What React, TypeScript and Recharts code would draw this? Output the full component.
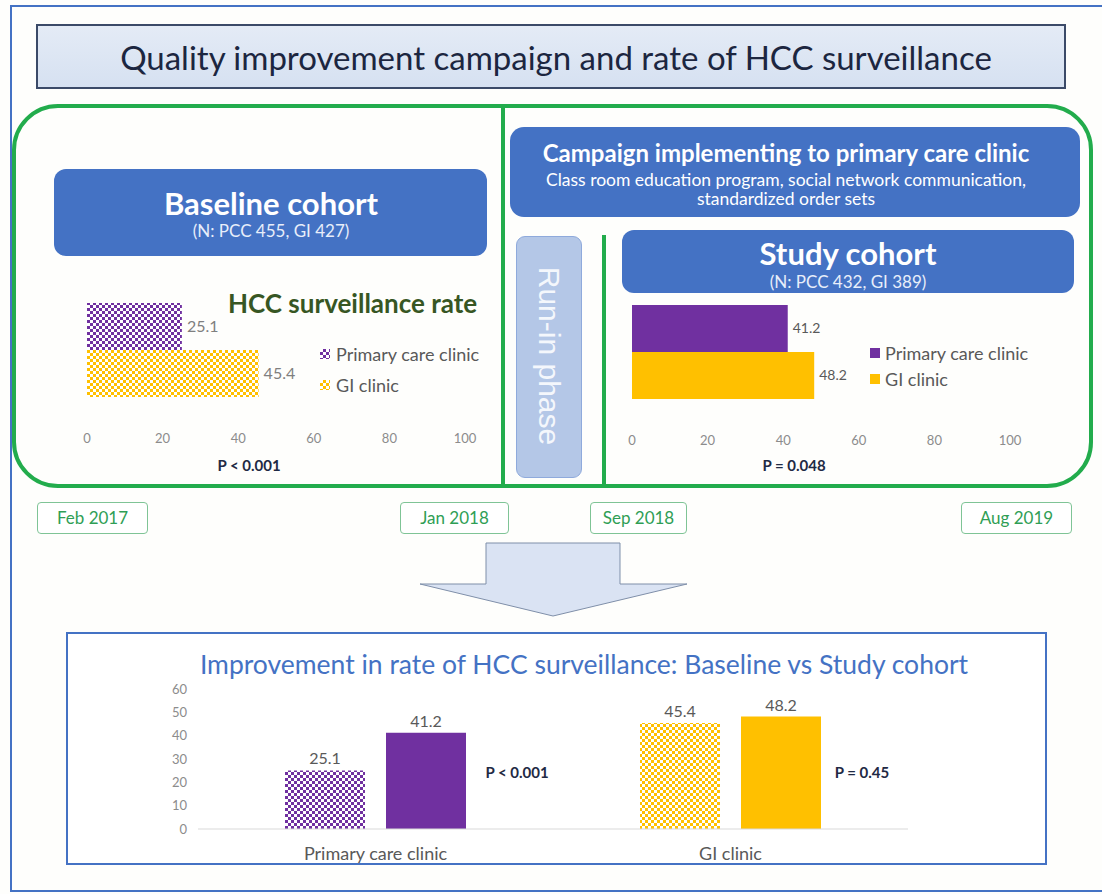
import React from "react";
import { BarChart, Bar, XAxis, YAxis, LabelList, Cell } from "recharts";

// ==================== data ====================
const clinics = ["Primary care clinic", "GI clinic"];
const baselineRates = [25.1, 45.4];
const studyRates = [41.2, 48.2];
const rateTicks = [0, 20, 40, 60, 80, 100];
const compareTicks = [0, 10, 20, 30, 40, 50, 60];
const dateLabels = ["Feb 2017", "Jan 2018", "Sep 2018", "Aug 2019"];
const cohortPValue = ["P < 0.001", "P = 0.048"];
const clinicPValue = ["P < 0.001", "P = 0.45"];

const baselineData = [{ cohort: "Baseline", pcc: baselineRates[0], gi: baselineRates[1] }];
const studyData = [{ cohort: "Study", pcc: studyRates[0], gi: studyRates[1] }];
const compareData = clinics.map((clinic, i) => ({
  clinic,
  baseline: baselineRates[i],
  study: studyRates[i],
}));

const PURPLE = "#7030a0";
const YELLOW = "#ffc000";
const BLUE = "#4472c4";
const GREEN = "#22ac4c";
const FONT = "Lato, 'Open Sans', sans-serif";

// text helper, centred on (cx, cy)
function T({ cx, cy, w = 600, size, color, bold, children, align = "center" }: any) {
  const left = align === "center" ? cx - w / 2 : cx;
  return (
    <div
      style={{
        position: "absolute",
        left,
        top: cy - size * 0.5,
        width: w,
        height: size,
        lineHeight: `${size}px`,
        fontSize: size,
        color,
        fontWeight: bold ? 700 : 400,
        textAlign: align === "center" ? "center" : "left",
        whiteSpace: "nowrap",
      }}
    >
      {children}
    </div>
  );
}

function Rect({ x, y, w, h, style }: any) {
  return <div style={{ position: "absolute", left: x, top: y, width: w, height: h, boxSizing: "border-box", ...style }} />;
}

function Marker({ x, cy, fill }: { x: number; cy: number; fill: string }) {
  return (
    <svg style={{ position: "absolute", left: x, top: cy - 5 }} width={10} height={10}>
      <rect width={10} height={10} fill={fill} />
    </svg>
  );
}

// horizontal bar chart for one cohort
function CohortChart({ data, labelSize, labelColor }: any) {
  const patterned = data === baselineData;
  return (
    <BarChart
      width={440}
      height={170}
      data={data}
      layout="vertical"
      barCategoryGap={3}
      barGap={0}
      margin={{ top: 10, right: 35, left: 27, bottom: 30 }}
      style={{ fontFamily: FONT }}
    >
      <XAxis
        type="number"
        domain={[0, 100]}
        ticks={rateTicks}
        axisLine={false}
        tickLine={false}
        tickMargin={28}
        height={30}
        tick={{ fontSize: 13, fill: "#8c8c8c" }}
      />
      <YAxis type="category" dataKey="cohort" hide width={0} />
      <Bar dataKey="pcc" fill={patterned ? "url(#pccPat)" : PURPLE} isAnimationActive={false}>
        <LabelList dataKey="pcc" position="right" offset={5} fill={labelColor} fontSize={labelSize} />
      </Bar>
      <Bar dataKey="gi" fill={patterned ? "url(#giPat)" : YELLOW} isAnimationActive={false}>
        <LabelList dataKey="gi" position="right" offset={5} fill={labelColor} fontSize={labelSize} />
      </Bar>
    </BarChart>
  );
}

export default function App() {
  return (
    <div
      style={{
        position: "absolute",
        left: 0,
        top: 0,
        width: 1102,
        height: 894,
        background: "#fefefc",
        fontFamily: FONT,
        overflow: "hidden",
      }}
    >
      {/* shared fill patterns */}
      <svg width={0} height={0} style={{ position: "absolute" }}>
        <defs>
          <pattern id="pccPat" width={6} height={6} patternUnits="userSpaceOnUse">
            <rect width={6} height={6} fill={PURPLE} />
            <rect x={0} y={0} width={3} height={3} fill="#ffffff" />
            <rect x={3} y={3} width={3} height={3} fill="#ffffff" />
          </pattern>
          <pattern id="giPat" width={6} height={6} patternUnits="userSpaceOnUse">
            <rect width={6} height={6} fill={YELLOW} />
            <rect x={0} y={0} width={3} height={3} fill="#ffffff" />
            <rect x={3} y={3} width={3} height={3} fill="#ffffff" />
          </pattern>
        </defs>
      </svg>

      {/* outer frame */}
      <Rect x={10} y={5} w={1100} h={887} style={{ border: `2px solid ${BLUE}` }} />

      {/* title */}
      <Rect
        x={36}
        y={24}
        w={1030}
        h={65}
        style={{ border: "2px solid #3b4a68", background: "linear-gradient(#e4ebf6, #d6e1f1)" }}
      />
      <T cx={556} cy={57} w={1000} size={33} color="#1c2640">
        Quality improvement campaign and rate of HCC surveillance
      </T>

      {/* green timeline frame */}
      <Rect x={12} y={104} w={1081} h={384} style={{ border: `4px solid ${GREEN}`, borderRadius: 46 }} />
      <Rect x={501} y={104} w={4} h={384} style={{ background: GREEN }} />
      <Rect x={602} y={235} w={4} h={253} style={{ background: GREEN }} />

      {/* baseline cohort */}
      <Rect x={54} y={169} w={433} h={87} style={{ background: BLUE, borderRadius: 12 }} />
      <T cx={271} cy={203} size={31} color="#ffffff" bold>
        Baseline cohort
      </T>
      <T cx={271} cy={230} size={17} color="#e8eefa">
        (N: PCC 455, GI 427)
      </T>

      {/* campaign */}
      <Rect x={510} y={127} w={570} h={90} style={{ background: BLUE, borderRadius: 14 }} />
      <T cx={786} cy={153} size={24} color="#ffffff" bold>
        Campaign implementing to primary care clinic
      </T>
      <T cx={786} cy={180} size={17.5} color="#ffffff">
        Class room education program, social network communication,
      </T>
      <T cx={786} cy={199} size={17.5} color="#ffffff">
        standardized order sets
      </T>

      {/* run-in */}
      <Rect
        x={516}
        y={236}
        w={66}
        h={242}
        style={{ background: "#b4c7e7", border: "1px solid #8faadc", borderRadius: 9 }}
      />
      <div
        style={{
          position: "absolute",
          left: 549 - 120,
          top: 356 - 18,
          width: 240,
          height: 36,
          lineHeight: "36px",
          textAlign: "center",
          fontSize: 30,
          color: "#f4f7fc",
          fontFamily: "'Liberation Sans', Arial, sans-serif",
          transform: "rotate(90deg)",
        }}
      >
        Run-in phase
      </div>

      {/* study cohort */}
      <Rect x={622} y={230} w={452} h={63} style={{ background: BLUE, borderRadius: 12 }} />
      <T cx={848} cy={253} size={31} color="#ffffff" bold>
        Study cohort
      </T>
      <T cx={848} cy={281} size={17} color="#e8eefa">
        (N: PCC 432, GI 389)
      </T>

      {/* baseline chart */}
      <div style={{ position: "absolute", left: 60, top: 290 }}>
        <CohortChart data={baselineData} labelSize={16} labelColor="#7f7f7f" />
      </div>
      <T cx={228} cy={303} align="left" size={26} color="#375623" bold>
        HCC surveillance rate
      </T>
      <Marker x={320} cy={354} fill="url(#pccPat)" />
      <T cx={336} cy={354} align="left" size={18} color="#595959">
        {clinics[0]}
      </T>
      <Marker x={320} cy={385} fill="url(#giPat)" />
      <T cx={336} cy={385} align="left" size={18} color="#595959">
        {clinics[1]}
      </T>
      <T cx={249} cy={465} size={15} color="#1f2a44" bold>
        {cohortPValue[0]}
      </T>

      {/* study chart */}
      <div style={{ position: "absolute", left: 605, top: 292 }}>
        <CohortChart data={studyData} labelSize={14} labelColor="#595959" />
      </div>
      <Marker x={870} cy={353} fill={PURPLE} />
      <T cx={885} cy={353} align="left" size={18} color="#595959">
        {clinics[0]}
      </T>
      <Marker x={870} cy={379} fill={YELLOW} />
      <T cx={885} cy={379} align="left" size={18} color="#595959">
        {clinics[1]}
      </T>
      <T cx={794} cy={465} size={15} color="#1f2a44" bold>
        {cohortPValue[1]}
      </T>

      {/* dates */}
      {dateLabels.map((d, i) => {
        const xs = [37, 400, 590, 961];
        const ws = [111, 109, 97, 111];
        return (
          <div
            key={d}
            style={{
              position: "absolute",
              left: xs[i],
              top: 502,
              width: ws[i],
              height: 32,
              boxSizing: "border-box",
              border: "1px solid #7fc496",
              borderRadius: 4,
              background: "#ffffff",
              color: "#2f9e55",
              fontSize: 17,
              lineHeight: "30px",
              textAlign: "center",
            }}
          >
            {d}
          </div>
        );
      })}

      {/* arrow */}
      <svg style={{ position: "absolute", left: 0, top: 0 }} width={1102} height={640}>
        <polygon
          points="486,543 620,543 620,584 687,584 553,616 420,584 486,584"
          fill="#dae3f3"
          stroke="#7f8fa9"
          strokeWidth={1}
        />
      </svg>

      {/* comparison panel */}
      <Rect x={66} y={632} w={981} h={233} style={{ border: `2px solid ${BLUE}`, background: "#ffffff" }} />
      <T cx={584} cy={664} w={950} size={26.5} color={BLUE}>
        Improvement in rate of HCC surveillance: Baseline vs Study cohort
      </T>
      <div style={{ position: "absolute", left: 150, top: 670 }}>
        <BarChart
          width={800}
          height={200}
          data={compareData}
          barSize={80}
          barGap={21}
          margin={{ top: 19, right: 42, left: 18, bottom: 11 }}
          style={{ fontFamily: FONT }}
        >
          <XAxis
            dataKey="clinic"
            axisLine={{ stroke: "#d9d9d9" }}
            tickLine={false}
            tickMargin={12}
            height={30}
            tick={{ fontSize: 18, fill: "#595959" }}
          />
          <YAxis
            domain={[0, 60]}
            ticks={compareTicks}
            axisLine={false}
            tickLine={false}
            tickMargin={5}
            width={30}
            tick={{ fontSize: 13, fill: "#8c8c8c" }}
          />
          <Bar dataKey="baseline" isAnimationActive={false}>
            {compareData.map((d, i) => (
              <Cell key={d.clinic} fill={i === 0 ? "url(#pccPat)" : "url(#giPat)"} />
            ))}
            <LabelList dataKey="baseline" position="top" offset={6} fill="#595959" fontSize={16} />
          </Bar>
          <Bar dataKey="study" isAnimationActive={false}>
            {compareData.map((d, i) => (
              <Cell key={d.clinic} fill={i === 0 ? PURPLE : YELLOW} />
            ))}
            <LabelList dataKey="study" position="top" offset={6} fill="#595959" fontSize={16} />
          </Bar>
        </BarChart>
      </div>
      <T cx={517} cy={772} size={15} color="#1f2a44" bold>
        {clinicPValue[0]}
      </T>
      <T cx={862} cy={772} size={15} color="#1f2a44" bold>
        {clinicPValue[1]}
      </T>
    </div>
  );
}
